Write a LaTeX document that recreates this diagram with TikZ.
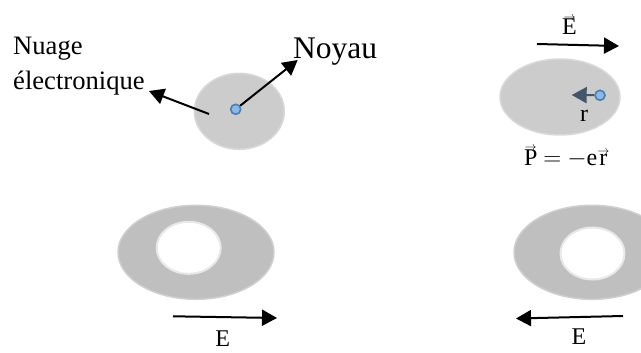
\documentclass[tikz,border=0pt]{standalone}
\usepackage{fontspec}
\setmainfont{Liberation Serif}
\usetikzlibrary{shapes.geometric,arrows.meta}
\definecolor{cloudtop}{HTML}{CDCCCD}
\definecolor{cloudedge}{HTML}{D9D9D9}
\definecolor{ringfill}{HTML}{BFBFBF}
\definecolor{ringedge}{HTML}{CFCFCF}
\definecolor{holeedge}{HTML}{E8E8E8}
\definecolor{nucfill}{HTML}{8DB8E6}
\definecolor{nucedge}{HTML}{4A7EB0}
\definecolor{slatearrow}{HTML}{44546A}
\newcommand{\vecsym}[1]{\leavevmode\vbox{\offinterlineskip\halign{\hfil##\hfil\cr{\fontsize{13}{13}\selectfont$\rightarrow$}\cr\noalign{\kern-1pt}#1\cr}}}
\tikzset{
  cloud/.style={ellipse,draw=cloudedge,fill=cloudtop,line width=1.5pt,inner sep=0pt},
  ring/.style={ellipse,draw=ringedge,fill=ringfill,line width=1.5pt,inner sep=0pt,minimum width=156pt,minimum height=94pt},
  hole/.style={ellipse,draw=holeedge,fill=white,line width=2pt,inner sep=0pt,minimum width=64pt,minimum height=52pt},
  nucleus/.style={circle,draw=nucedge,fill=nucfill,line width=1.6pt,inner sep=0pt,minimum size=10pt},
  arrowline/.style={draw=black,line width=2pt,-{Triangle[length=15pt,width=16pt]}},
  label/.style={inner sep=0pt,font=\fontsize{24}{28}\selectfont},
}
\begin{document}
\begin{tikzpicture}[x=1pt,y=-1pt]
\useasboundingbox (0,0) rectangle (641,353);
\clip (0,0) rectangle (641,353);
% top left
\node[cloud,minimum width=90pt,minimum height=76pt] (c1) at (239.3,111.3) {};
\node[nucleus] (n1) at (235.7,109.3) {};
\coordinate (c1start) at (209,114);
\coordinate (nuageend) at (149,91);
\coordinate (noyauend) at (297.7,60);
\node[inner sep=0pt,align=left,anchor=west,font=\fontsize{26.6}{35}\selectfont] (nuage) at (13,66) {Nuage\\électronique};
\node[inner sep=0pt,anchor=west,font=\fontsize{31.5}{36}\selectfont] (noyau) at (293,52) {Noyau};
\draw[arrowline] (c1start) -- (nuageend);
\draw[arrowline] (n1) -- (noyauend);
% top right
\node[cloud,minimum width=120pt,minimum height=76pt] (c2) at (560,97) {};
\fill[white] (599,126) rectangle (625,140);
\node[nucleus] (n2) at (600,95.3) {};
\coordinate (r2end) at (571.7,95);
\draw[draw=slatearrow,line width=2pt,-{Triangle[length=15pt,width=16pt]}] (n2) -- (r2end);
\node[label] (rlab) at (584,116) {r};
\coordinate (e1a) at (537,44);
\coordinate (e1b) at (619,46);
\draw[arrowline] (e1a) -- (e1b);
\node[label,anchor=base] (e1) at (569.5,35) {\vecsym{E}};
\node[label,anchor=base] (pe) at (566.7,165) {\vecsym{P} $=$ $-$e\vecsym{r}};
% bottom left
\node[ring] (r3) at (196,252.3) {};
\node[hole] (h3) at (188.7,247.8) {};
\coordinate (e3a) at (173,316.3);
\coordinate (e3b) at (277,318);
\draw[arrowline] (e3a) -- (e3b);
\node[label] (e3) at (222.7,339) {E};
% bottom right
\node[ring] (r4) at (592,252.3) {};
\node[hole] (h4) at (592.5,253.5) {};
\coordinate (e4a) at (623,316);
\coordinate (e4b) at (516,318.5);
\draw[arrowline] (e4a) -- (e4b);
\node[label] (e4) at (579,337) {E};
\end{tikzpicture}
\end{document}
